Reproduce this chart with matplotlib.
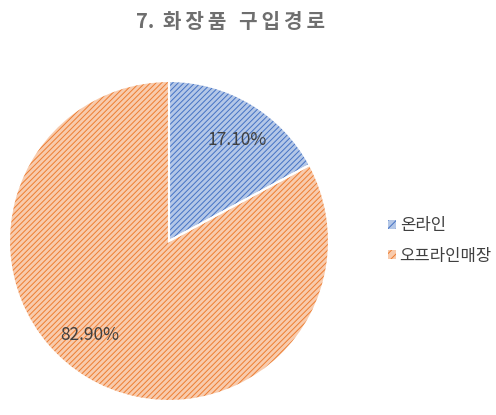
import matplotlib.pyplot as plt
from matplotlib.patches import Patch

plt.rcParams['font.family'] = ['Noto Sans CJK KR', 'DejaVu Sans']
plt.rcParams['hatch.linewidth'] = 0.7

# 데이터
labels = ['온라인', '오프라인매장']
values = [17.1, 82.9]
face_colors = ['#b4c7e7', '#f8cbad']
hatch_colors = ['#4472c4', '#ed7d31']
title = '7. 화장품 구입경로'
# 엑셀 라벨 위치 (반지름 기준)
label_pos = [(0.428, 0.632), (-0.497, -0.588)]

W, H = 496, 415
cx, cy, r = 169, 241, 160
fig = plt.figure(figsize=(W / 100, H / 100), dpi=100)
ax = fig.add_axes([(cx - r) / W, 1 - (cy + r) / H, 2 * r / W, 2 * r / H])

# 빗금 채우기
wedges, _ = ax.pie(values, startangle=90, counterclock=False,
                   colors=face_colors, wedgeprops=dict(linewidth=0))
for w, hc in zip(wedges, hatch_colors):
    w.set_edgecolor(hc)
    w.set_hatch('//////')

# 흰색 테두리 + 퍼센트 라벨
_, _, texts = ax.pie(values, startangle=90, counterclock=False,
                     colors=['none', 'none'], autopct='%.2f%%',
                     wedgeprops=dict(edgecolor='white', linewidth=1.5, fill=False),
                     textprops=dict(color='#404040', fontsize=12.5))
for t, p in zip(texts, label_pos):
    t.set_position(p)
ax.set_xlim(-1, 1)
ax.set_ylim(-1, 1)
ax.set_aspect('equal')

handles = [Patch(facecolor=fc, edgecolor=hc, hatch='////', linewidth=0)
           for fc, hc in zip(face_colors, hatch_colors)]
fig.legend(handles, labels, loc='center left', bbox_to_anchor=(388 / W, 1 - 241 / H),
           frameon=False, fontsize=12, handlelength=0.45, handleheight=0.45,
           handletextpad=0.25, labelspacing=0.8, borderpad=0, borderaxespad=0,
           labelcolor='#404040')

# 제목 (자간 넓게)
spaced = '7.\u2009 ' + '\u2009'.join(title[3:])
fig.text(230 / W, 1 - 22 / H, spaced, ha='center', va='center',
         fontsize=14.5, fontweight='bold', color='#6e6e6e')

fig.savefig('out.png', dpi=100)
